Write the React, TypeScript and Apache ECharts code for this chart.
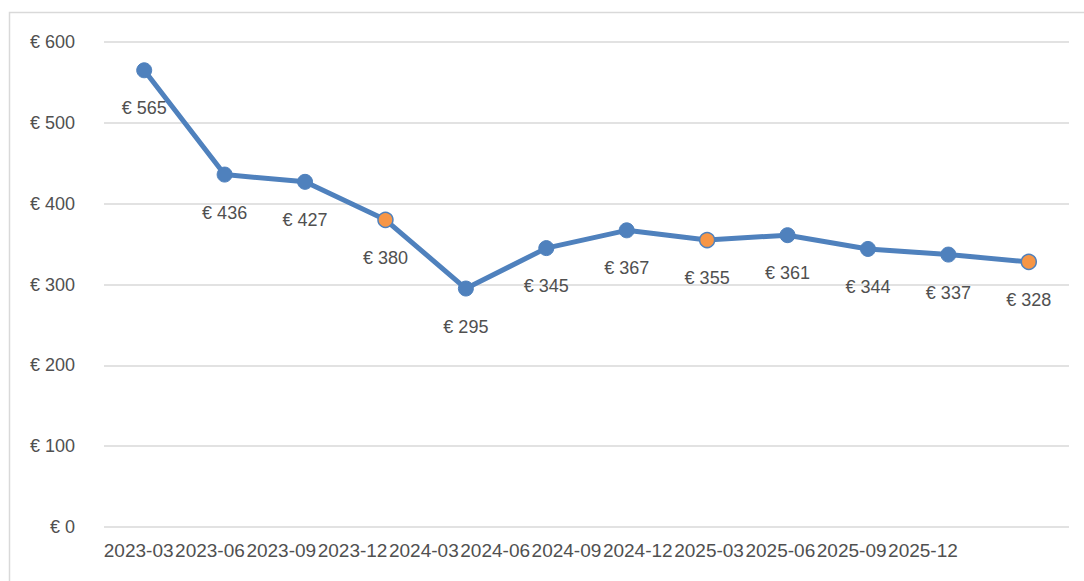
import React, { useEffect, useRef } from "react";
import * as echarts from "echarts";

const categories = ["2023-03", "2023-06", "2023-09", "2023-12", "2024-03", "2024-06", "2024-09", "2024-12", "2025-03", "2025-06", "2025-09", "2025-12"];
const values = [565, 436, 427, 380, 295, 345, 367, 355, 361, 344, 337, 328];
const highlighted = [false, false, false, true, false, false, false, true, false, false, false, true];

const BLUE = "#4F81BD";
const ORANGE = "#F79646";
const TEXT = "#505050";
const FONT = "'Liberation Sans', Arial, sans-serif";

export default function App() {
  const ref = useRef<HTMLDivElement>(null);
  useEffect(() => {
    document.body.style.margin = "0";
    if (!ref.current) return;
    const chart = echarts.init(ref.current, null, { renderer: "svg" });
    chart.setOption({
      animation: false,
      backgroundColor: "#ffffff",
      textStyle: { fontFamily: FONT },
      graphic: [
        {
          type: "rect",
          shape: { x: 9.5, y: 12.5, width: 1200, height: 700 },
          style: { fill: "none", stroke: "#d9d9d9", lineWidth: 1.5 },
          silent: true,
          z: -1,
        },
      ],
      grid: [
        { left: 104, right: 15, top: 42, bottom: 54 },
        { left: 103, width: 855.6, top: 42, bottom: 54 },
      ],
      xAxis: [
        {
          type: "category",
          data: categories,
          gridIndex: 0,
          boundaryGap: true,
          axisLine: { show: false },
          axisTick: { show: false },
          axisLabel: { show: false },
          splitLine: { show: false },
        },
        {
          type: "category",
          data: categories,
          gridIndex: 1,
          boundaryGap: true,
          axisLine: { show: false },
          axisTick: { show: false },
          axisLabel: { show: true, color: TEXT, fontSize: 19, fontFamily: FONT, margin: 14, interval: 0 },
          splitLine: { show: false },
        },
      ],
      yAxis: [
        {
          type: "value",
          gridIndex: 0,
          min: 0,
          max: 600,
          interval: 100,
          axisLine: { show: false },
          axisTick: { show: false },
          axisLabel: {
            color: TEXT,
            fontSize: 18,
            fontFamily: FONT,
            margin: 29,
            formatter: (v: number) => "€ " + v,
          },
          splitLine: { show: true, lineStyle: { color: "#d9d9d9", width: 1.5 } },
        },
        {
          type: "value",
          gridIndex: 1,
          show: false,
          splitLine: { show: false },
        },
      ],
      series: [
        {
          type: "line",
          xAxisIndex: 0,
          yAxisIndex: 0,
          data: values.map((v, i) => ({
            value: v,
            itemStyle: highlighted[i]
              ? { color: ORANGE, borderColor: BLUE, borderWidth: 1.5 }
              : { color: BLUE, borderColor: BLUE, borderWidth: 1 },
          })),
          symbol: "circle",
          symbolSize: 15,
          lineStyle: { color: BLUE, width: 5 },
          itemStyle: { color: BLUE },
          label: {
            show: true,
            position: "bottom",
            distance: 21,
            color: TEXT,
            fontSize: 18,
            fontFamily: FONT,
            formatter: (p: any) => "€ " + p.value,
          },
        },
      ],
    });
    return () => chart.dispose();
  }, []);
  return <div ref={ref} style={{ width: 1084, height: 581 }} />;
}
